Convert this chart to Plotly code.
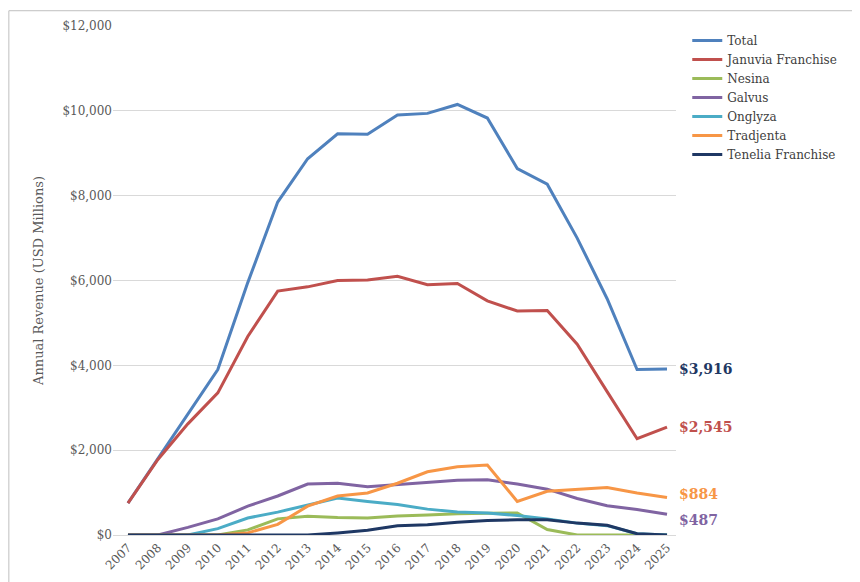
import plotly.graph_objects as go

years = list(range(2007, 2026))
total = [750, 1800, 2850, 3900, 5950, 7850, 8870, 9460, 9450, 9900, 9940, 10150, 9830, 8640, 8270, 7000, 5570, 3900, 3916]
januvia = [750, 1780, 2620, 3350, 4680, 5750, 5850, 6000, 6010, 6100, 5900, 5930, 5520, 5280, 5290, 4500, 3380, 2270, 2545]
nesina = [0, 0, 0, 0, 120, 380, 440, 410, 400, 450, 470, 500, 510, 520, 130, 0, 0, 0, 0]
galvus = [0, 0, 180, 380, 680, 920, 1200, 1220, 1140, 1190, 1230, 1290, 1300, 1200, 1080, 860, 690, 600, 487]
onglyza = [0, 0, 0, 150, 400, 540, 700, 870, 790, 720, 610, 540, 520, 460, 380, 280, 220, 30, 0]
tradjenta = [0, 0, 0, 0, 50, 250, 680, 920, 990, 1220, 1490, 1610, 1650, 790, 1030, 1070, 1120, 990, 884]
tenelia = [0, 0, 0, 0, 0, 0, 0, 50, 110, 220, 240, 300, 340, 360, 360, 280, 230, 30, 0]

series = [
    ("Total", total, "#4F81BD"),
    ("Januvia Franchise", januvia, "#C0504D"),
    ("Nesina", nesina, "#9BBB59"),
    ("Galvus", galvus, "#8064A2"),
    ("Onglyza", onglyza, "#4BACC6"),
    ("Tradjenta", tradjenta, "#F79646"),
    ("Tenelia Franchise", tenelia, "#1F3864"),
]

fig = go.Figure()
for name, vals, col in series:
    fig.add_trace(go.Scatter(x=years, y=vals, name=name, mode="lines",
                             line=dict(color=col, width=3)))

# end labels
labels = [(total, "#1F3864", "$3,916", 0), (januvia, "#C0504D", "$2,545", 0),
          (tradjenta, "#F79646", "$884", 4), (galvus, "#8064A2", "$487", -6)]
for vals, col, txt, ys in labels:
    fig.add_annotation(x=years[-1], y=vals[-1], text="<b>" + txt + "</b>", showarrow=False,
                       xanchor="left", xshift=10, yshift=ys, font=dict(color=col, size=14))

fig.update_layout(
    width=860, height=582,
    margin=dict(l=105, r=192, t=18, b=55, autoexpand=False),
    plot_bgcolor="white", paper_bgcolor="white",
    font=dict(family="DejaVu Serif, Georgia, serif", size=12, color="#595959"),
    legend=dict(x=1.02, y=1.0, xanchor="left", yanchor="top", font=dict(size=12, color="#404040"),
                bgcolor="rgba(0,0,0,0)", tracegroupgap=0, itemwidth=30),
    xaxis=dict(tickmode="array", tickvals=years, tickangle=-45, showgrid=False,
               showline=True, linecolor="#D9D9D9", range=[2006.5, 2025.3], ticks=""),
    yaxis=dict(range=[0, 12000], dtick=2000, tickprefix="$", tickformat=",",
               gridcolor="#D9D9D9", zeroline=False,
               title=dict(text="Annual Revenue (USD Millions)", font=dict(size=13))),
    shapes=[dict(type="rect", xref="paper", yref="paper", x0=-0.185, y0=-0.105, x1=1.34, y1=1.03,
                 line=dict(color="#BFBFBF", width=1))],
)

fig.write_html("out.html")
